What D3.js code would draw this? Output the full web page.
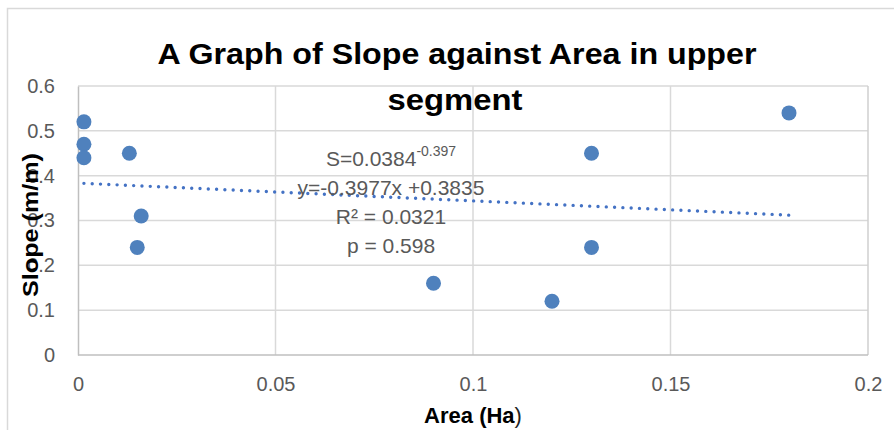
<!DOCTYPE html>
<html>
<head>
<meta charset="utf-8">
<script src="https://cdn.jsdelivr.net/npm/d3@7"></script>
<style>
  html, body { margin: 0; padding: 0; background: #fff; }
  svg { display: block; font-family: "Liberation Sans", Arial, sans-serif; }
</style>
</head>
<body>
<svg id="chart" width="894" height="430"></svg>
<script>
// ---- Data ----
const areas  = [0.0015, 0.0015, 0.0015, 0.013, 0.016, 0.015, 0.09, 0.12, 0.13, 0.13, 0.18];
const slopes = [0.52,   0.47,   0.44,   0.45,  0.31,  0.24,  0.16, 0.12, 0.45, 0.24, 0.54];
const xTicks = [0, 0.05, 0.1, 0.15, 0.2];
const yTicks = [0, 0.1, 0.2, 0.3, 0.4, 0.5, 0.6];
// linear trend as printed on the chart
const trendSlope = -0.3977, trendIntercept = 0.3835;
const trendRange = [0.0015, 0.18];
const notes = ["y=-0.3977x +0.3835", "R² = 0.0321", "p = 0.598"];

const svg = d3.select("#chart");
const grey = "#595959";
const blue = "#4f81bd";

// chart frame (runs off the right and bottom of the window)
svg.append("rect")
    .attr("x", 7.5).attr("y", 8.5)
    .attr("width", 950).attr("height", 500)
    .attr("fill", "none")
    .attr("stroke", "#d9d9d9")
    .attr("stroke-width", 1.5);

const x = d3.scaleLinear().domain([0, 0.2]).range([78, 868]);
const y = d3.scaleLinear().domain([0, 0.6]).range([355, 86]);

// ---- gridlines ----
const grid = svg.append("g");
grid.selectAll("line.h")
    .data(yTicks.filter(d => d > 0))
    .join("line")
    .attr("x1", x(0)).attr("x2", x(0.2))
    .attr("y1", d => y(d)).attr("y2", d => y(d))
    .attr("stroke", "#d9d9d9").attr("stroke-width", 1.5);
grid.selectAll("line.v")
    .data(xTicks.filter(d => d > 0))
    .join("line")
    .attr("y1", y(0)).attr("y2", y(0.6))
    .attr("x1", d => x(d)).attr("x2", d => x(d))
    .attr("stroke", d => d === 0.2 ? "#cfcfcf" : "#d9d9d9")
    .attr("stroke-width", 1.5);

// ---- axes ----
const xAxis = svg.append("g")
    .attr("transform", `translate(0,${y(0)})`)
    .call(d3.axisBottom(x).tickValues(xTicks).tickSize(0).tickPadding(22).tickFormat(d => String(d)));
const yAxis = svg.append("g")
    .attr("transform", `translate(${x(0)},0)`)
    .call(d3.axisLeft(y).tickValues(yTicks).tickSize(0).tickPadding(23).tickFormat(d => String(d)));
[xAxis, yAxis].forEach(a => {
    a.select(".domain").attr("stroke", "#bfbfbf").attr("stroke-width", 1.5);
    a.selectAll("text")
        .attr("fill", grey)
        .attr("font-size", 20)
        .attr("font-family", "Liberation Sans, Arial, sans-serif");
});
xAxis.select(".domain").attr("d", `M${x(0)},0H${x(0.2)}`);

// ---- trend line (dotted) ----
svg.append("line")
    .attr("x1", x(trendRange[0]))
    .attr("y1", y(trendSlope * trendRange[0] + trendIntercept))
    .attr("x2", x(trendRange[1]))
    .attr("y2", y(trendSlope * trendRange[1] + trendIntercept))
    .attr("stroke", "#4472c4")
    .attr("stroke-width", 3.4)
    .attr("stroke-linecap", "round")
    .attr("stroke-dasharray", "0 8.3");

// ---- points ----
svg.append("g")
    .selectAll("circle")
    .data(areas.map((a, i) => [a, slopes[i]]))
    .join("circle")
    .attr("cx", d => x(d[0]))
    .attr("cy", d => y(d[1]))
    .attr("r", 7.5)
    .attr("fill", blue);

// ---- trend labels ----
const cx = 391;
const s = svg.append("text")
    .attr("x", cx).attr("y", 166)
    .attr("text-anchor", "middle")
    .attr("fill", grey).attr("font-size", 21);
s.append("tspan").text("S=0.0384");
s.append("tspan").attr("dy", -10).attr("font-size", 14).text("-0.397");
svg.selectAll("text.note")
    .data(notes)
    .join("text")
    .attr("class", "note")
    .attr("x", cx)
    .attr("y", (d, i) => 195 + i * 29)
    .attr("text-anchor", "middle")
    .attr("fill", grey).attr("font-size", 21)
    .text(d => d);

// ---- titles ----
svg.append("text")
    .attr("x", 457).attr("y", 64)
    .attr("text-anchor", "middle")
    .attr("font-weight", "bold").attr("font-size", 29)
    .attr("textLength", 599).attr("lengthAdjust", "spacingAndGlyphs")
    .text("A Graph of Slope against Area in upper");
svg.append("text")
    .attr("x", 455).attr("y", 110)
    .attr("text-anchor", "middle")
    .attr("font-weight", "bold").attr("font-size", 29)
    .attr("textLength", 135).attr("lengthAdjust", "spacingAndGlyphs")
    .text("segment");

const xt = svg.append("text")
    .attr("x", 473).attr("y", 423)
    .attr("text-anchor", "middle")
    .attr("font-size", 22);
xt.append("tspan").attr("font-weight", "bold").text("Area (Ha");
xt.append("tspan").attr("fill", "#222").text(")");

svg.append("text")
    .attr("transform", "translate(38,225) rotate(-90)")
    .attr("text-anchor", "middle")
    .attr("font-weight", "bold").attr("font-size", 22)
    .attr("textLength", 144).attr("lengthAdjust", "spacingAndGlyphs")
    .text("Slope (m/m)");
</script>
</body>
</html>
